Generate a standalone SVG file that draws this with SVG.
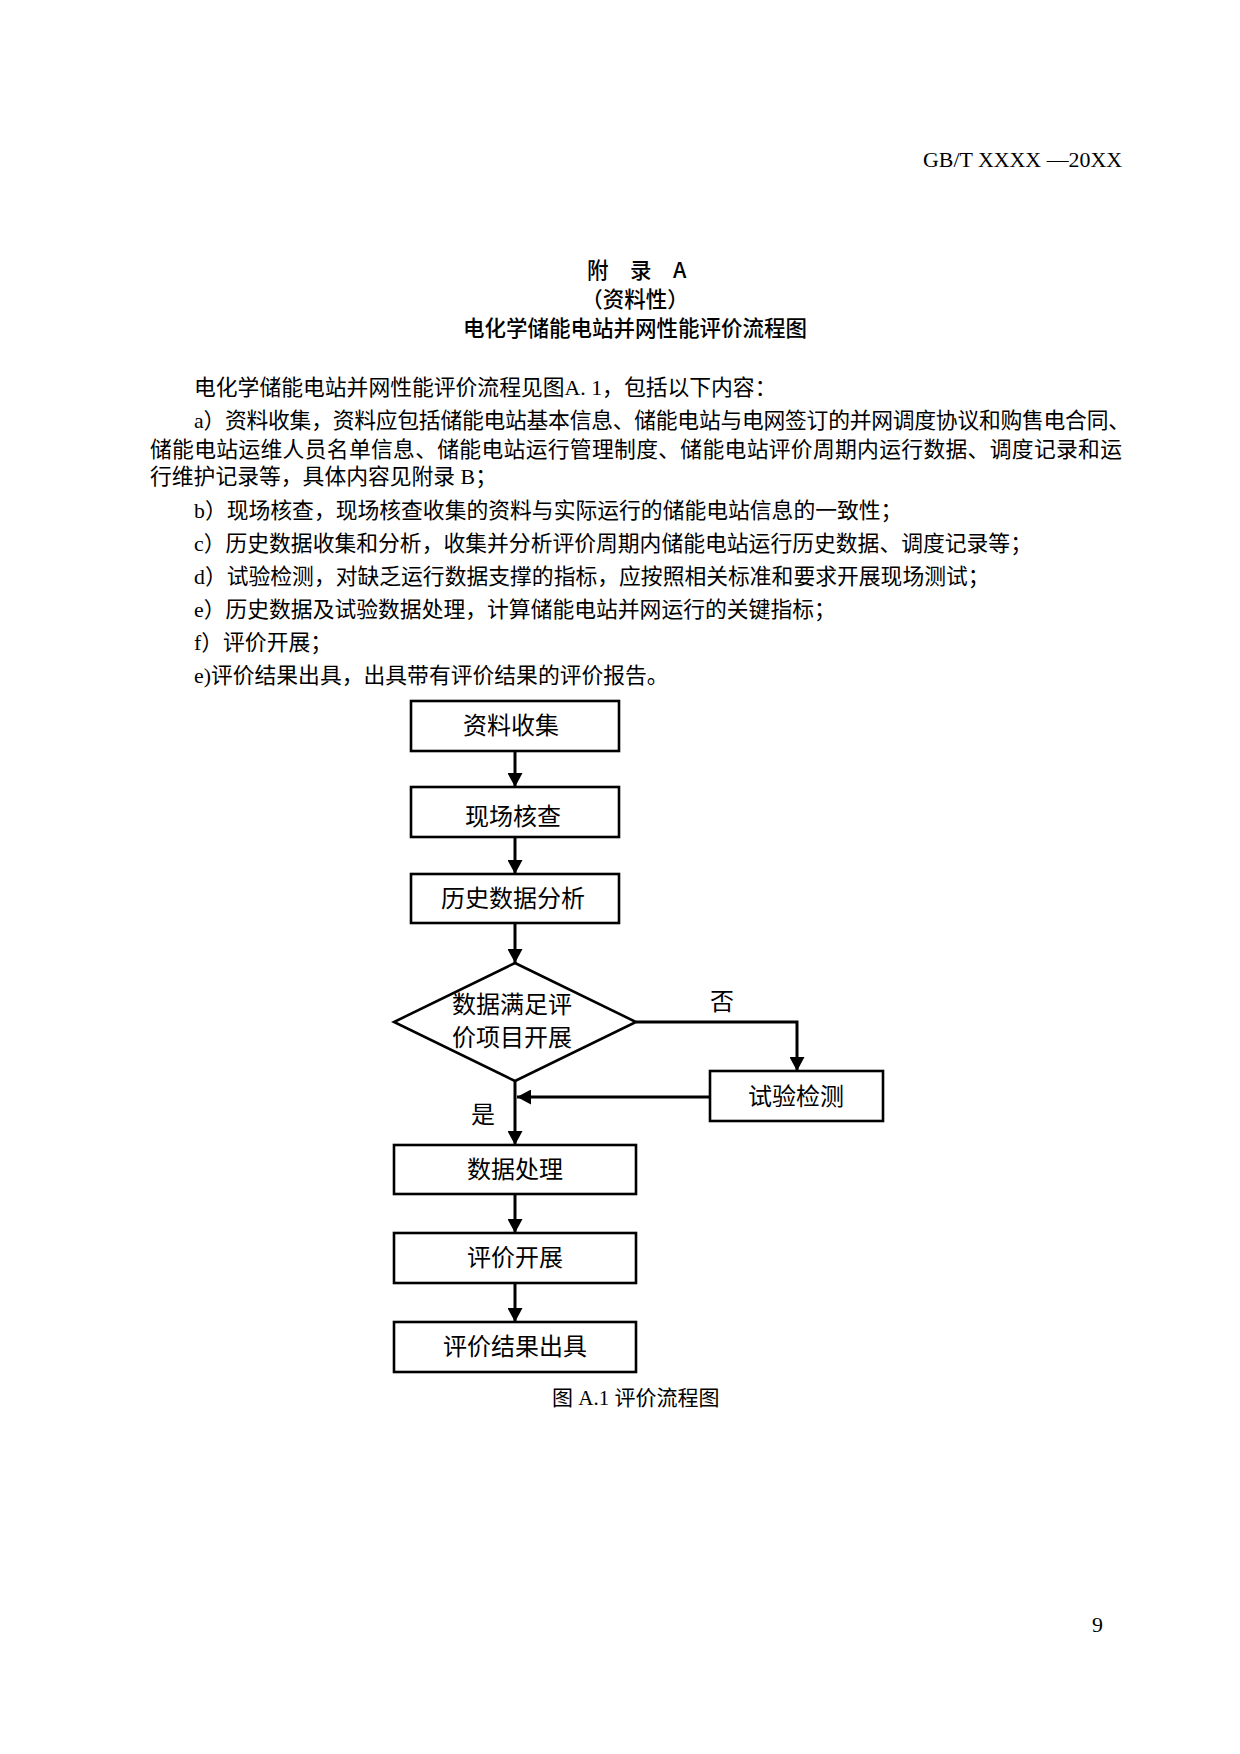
<svg xmlns="http://www.w3.org/2000/svg" width="1240" height="1754" viewBox="0 0 1240 1754">
<style>
.hdr{font-family:"Liberation Serif","Noto Sans CJK SC",serif;font-size:21.9px;fill:#000}
.ttl{font-family:"Noto Sans CJK SC",sans-serif;font-size:21.5px;font-weight:500;fill:#000}
.body{font-family:"Liberation Serif","Noto Sans CJK SC",serif;font-size:21.8px;fill:#000}
.box{fill:#fff;stroke:#000;stroke-width:2.6}
.lbl{font-family:"Noto Sans CJK SC",sans-serif;font-size:24px;fill:#000;text-anchor:middle}
.edge{fill:none;stroke:#000;stroke-width:3}
.cap{font-family:"Liberation Serif","Noto Sans CJK SC",serif;font-size:21px;fill:#000}
</style>
<defs>
<marker id="arr" markerUnits="userSpaceOnUse" markerWidth="15" markerHeight="15" viewBox="0 0 15 15" refX="14" refY="7.5" orient="auto">
<path d="M0,0 L14,7.5 L0,15 Z" fill="#000"/>
</marker>
</defs>
<rect width="1240" height="1754" fill="#fff"/>
<text class="hdr" x="923" y="167">GB/T XXXX —20XX</text>
<text class="ttl" x="587 630 673" y="278">附录A</text>
<text class="ttl" x="635" y="307" text-anchor="middle">（资料性）</text>
<text class="ttl" x="635" y="336" text-anchor="middle">电化学储能电站并网性能评价流程图</text>
<text class="body" x="194" y="395">电化学储能电站并网性能评价流程见图A. 1，包括以下内容：</text>
<text class="body" x="194" y="428" textLength="936" lengthAdjust="spacing">a）资料收集，资料应包括储能电站基本信息、储能电站与电网签订的并网调度协议和购售电合同、</text>
<text class="body" x="150" y="457" textLength="972" lengthAdjust="spacing">储能电站运维人员名单信息、储能电站运行管理制度、储能电站评价周期内运行数据、调度记录和运</text>
<text class="body" x="150" y="484">行维护记录等，具体内容见附录 B；</text>
<text class="body" x="194" y="518">b）现场核查，现场核查收集的资料与实际运行的储能电站信息的一致性；</text>
<text class="body" x="194" y="551">c）历史数据收集和分析，收集并分析评价周期内储能电站运行历史数据、调度记录等；</text>
<text class="body" x="194" y="584">d）试验检测，对缺乏运行数据支撑的指标，应按照相关标准和要求开展现场测试；</text>
<text class="body" x="194" y="617">e）历史数据及试验数据处理，计算储能电站并网运行的关键指标；</text>
<text class="body" x="194" y="650">f）评价开展；</text>
<text class="body" x="194" y="683">e)评价结果出具，出具带有评价结果的评价报告。</text>
<g id="connectors">
<line class="edge" x1="515" y1="751" x2="515" y2="787" marker-end="url(#arr)"/>
<line class="edge" x1="515" y1="837" x2="515" y2="874" marker-end="url(#arr)"/>
<line class="edge" x1="515" y1="923" x2="515" y2="963" marker-end="url(#arr)"/>
<line class="edge" x1="515" y1="1081" x2="515" y2="1145" marker-end="url(#arr)"/>
<line class="edge" x1="515" y1="1194" x2="515" y2="1233" marker-end="url(#arr)"/>
<line class="edge" x1="515" y1="1283" x2="515" y2="1322" marker-end="url(#arr)"/>
<polyline class="edge" points="636,1022 797,1022 797,1071" marker-end="url(#arr)"/>
<line class="edge" x1="710" y1="1097" x2="517" y2="1097" marker-end="url(#arr)"/>
<text class="lbl" x="722" y="1010" font-size="22">否</text>
<text class="lbl" x="483" y="1123" font-size="22">是</text>
</g>
<g id="n1"><rect class="box" x="411" y="701" width="208" height="50"/><text class="lbl" x="511" y="734">资料收集</text></g>
<g id="n2"><rect class="box" x="411" y="787" width="208" height="50"/><text class="lbl" x="513" y="825">现场核查</text></g>
<g id="n3"><rect class="box" x="411" y="874" width="208" height="49"/><text class="lbl" x="513" y="907">历史数据分析</text></g>
<g id="n4"><polygon class="box" points="515,963 636,1022 515,1081 394,1022"/><text class="lbl" x="512" y="1013" font-size="22">数据满足评</text><text class="lbl" x="512" y="1046" font-size="22">价项目开展</text></g>
<g id="n5"><rect class="box" x="710" y="1071" width="173" height="50"/><text class="lbl" x="796" y="1105">试验检测</text></g>
<g id="n6"><rect class="box" x="394" y="1145" width="242" height="49"/><text class="lbl" x="515" y="1178">数据处理</text></g>
<g id="n7"><rect class="box" x="394" y="1233" width="242" height="50"/><text class="lbl" x="515" y="1266">评价开展</text></g>
<g id="n8"><rect class="box" x="394" y="1322" width="242" height="50"/><text class="lbl" x="515" y="1355">评价结果出具</text></g>
<text class="cap" x="552" y="1405">图 A.1 评价流程图</text>
<text class="hdr" x="1092" y="1632" font-size="18">9</text>
</svg>
